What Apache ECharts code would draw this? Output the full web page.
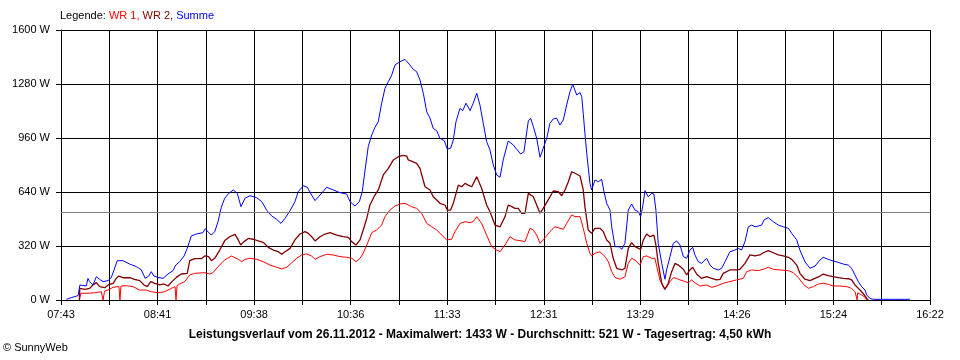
<!DOCTYPE html>
<html><head><meta charset="utf-8">
<style>html,body{margin:0;padding:0;background:#fff}#c{width:960px;height:360px}</style>
<script src="https://cdn.jsdelivr.net/npm/echarts/dist/echarts.min.js"></script>
</head><body><div id="c"></div>
<script>
// x values: minutes after 07:43 ; y values: W
const tickLabels = ['07:43','08:41','09:38','10:36','11:33','12:31','13:29','14:26','15:24','16:22'];
const spanMinutes = 519; // 07:43 -> 16:22
const average = 521;
const legendText = ['Legende: ', 'WR 1, ', 'WR 2, ', 'Summe'];
const footerText = 'Leistungsverlauf vom 26.11.2012 - Maximalwert: 1433 W - Durchschnitt: 521 W - Tagesertrag: 4,50 kWh';
const creditText = '\u00A9 SunnyWeb';

const summe = [[3.2,4],[6.2,14],[10.2,26],[10.9,26],[11.3,89],[15.1,83],[16.1,128],[17.1,109],[19.1,89],[21.1,138],[23.1,122],[25.1,109],[28.1,115],[30.0,132],[31.7,178],[33.6,233],[37.0,233],[41.0,213],[45.0,198],[48.0,178],[50.3,128],[52.4,142],[53.9,168],[55.5,142],[57.9,134],[60.9,128],[63.9,154],[66.9,174],[68.5,207],[70.9,227],[73.5,261],[75.4,306],[77.8,379],[80.8,391],[84.8,399],[86.2,423],[88.2,399],[89.8,385],[91.8,405],[93.8,464],[95.7,549],[97.8,603],[100.2,632],[102.9,652],[105.3,632],[107.5,553],[109.9,603],[112.9,618],[116.9,606],[119.9,583],[122.8,533],[125.8,498],[128.8,478],[131.4,454],[133.8,484],[136.8,529],[139.7,583],[141.7,642],[144.7,677],[147.1,668],[149.7,622],[151.7,589],[154.7,622],[158.7,668],[162.6,652],[166.6,636],[170.6,628],[172.6,583],[175.6,557],[178.2,583],[179.9,642],[181.6,770],[183.5,909],[185.6,978],[187.5,1023],[189.5,1057],[191.5,1166],[193.5,1255],[195.5,1294],[197.5,1333],[199.5,1393],[202.5,1412],[205.4,1426],[206.5,1433],[208.4,1393],[210.4,1367],[212.4,1353],[214.4,1304],[216.4,1225],[218.4,1116],[220.4,1077],[222.3,1017],[224.4,1003],[226.3,958],[228.9,944],[230.7,895],[232.7,899],[234.3,948],[235.9,1057],[238.3,1136],[239.9,1122],[241.9,1166],[244.3,1122],[246.2,1166],[248.3,1225],[250.2,1156],[252.2,1047],[254.2,938],[256.2,889],[258.2,800],[260.2,741],[262.2,727],[264.1,830],[267.1,942],[270.1,919],[272.2,893],[274.5,865],[276.5,879],[279.1,1061],[280.5,1077],[282.1,1027],[284.1,958],[286.1,846],[288.0,899],[290.1,958],[292.0,1047],[294.0,1073],[296.0,1077],[298.0,1037],[300.0,1067],[302.0,1156],[304.0,1235],[305.6,1278],[308.0,1215],[310.0,1229],[311.0,1205],[311.9,1106],[312.9,988],[314.0,869],[315.9,692],[316.9,652],[318.9,711],[320.9,701],[322.9,715],[324.3,642],[325.9,573],[327.9,533],[328.9,434],[330.9,316],[333.4,316],[334.9,300],[336.8,336],[338.8,533],[340.8,569],[342.8,533],[344.8,523],[346.2,494],[347.4,553],[348.8,648],[350.7,612],[352.8,632],[354.1,628],[355.3,533],[356.7,336],[358.8,217],[360.7,123],[361.7,178],[363.7,257],[365.7,336],[367.7,350],[369.7,326],[371.7,257],[373.7,247],[375.6,296],[377.3,312],[378.6,267],[380.6,227],[382.6,217],[385.6,247],[387.6,207],[389.6,188],[392.5,178],[394.6,188],[396.6,227],[399.5,286],[402.5,296],[404.5,306],[406.5,296],[408.5,346],[410.5,434],[412.5,444],[414.5,434],[416.4,438],[418.5,444],[419.8,474],[422.4,488],[425.4,464],[428.4,444],[431.4,434],[434.4,425],[436.4,395],[439.4,356],[441.3,296],[444.3,227],[447.3,188],[450.3,201],[453.3,237],[455.2,253],[458.2,241],[461.2,231],[464.2,223],[467.2,213],[470.2,207],[472.2,188],[474.2,148],[476.2,109],[478.2,79],[480.2,59],[481.2,30],[483.1,10],[485.1,4],[497.1,4],[507.0,4]];

const wr2 = [[11.0,0],[11.2,69],[14.2,63],[17.1,69],[19.1,89],[21.1,103],[23.1,79],[26.1,73],[28.1,89],[31.1,99],[33.0,128],[34.5,142],[37.0,132],[41.0,132],[44.0,122],[47.0,115],[49.6,89],[51.5,79],[53.6,109],[56.0,99],[58.9,89],[61.5,95],[63.9,83],[66.3,109],[68.9,134],[71.8,154],[75.4,158],[76.9,233],[79.8,245],[83.8,245],[85.8,261],[88.2,257],[89.8,233],[91.8,247],[94.8,296],[97.8,352],[100.8,375],[103.9,389],[105.9,356],[107.3,326],[109.3,346],[111.9,365],[114.8,360],[117.8,350],[120.8,342],[123.8,312],[126.8,296],[129.8,286],[131.8,271],[133.8,286],[136.8,306],[139.7,356],[142.7,391],[145.7,405],[147.7,395],[149.7,375],[151.7,350],[154.7,375],[157.7,391],[160.7,399],[164.7,385],[168.6,375],[171.6,371],[173.6,346],[176.2,326],[178.6,356],[180.5,415],[182.6,484],[184.5,563],[187.5,622],[189.5,652],[192.5,741],[195.5,780],[198.5,830],[201.4,849],[204.4,857],[206.5,853],[207.4,830],[210.4,818],[212.4,810],[214.4,780],[217.4,671],[220.4,652],[222.3,612],[224.4,593],[226.3,573],[229.3,563],[230.7,533],[232.7,533],[234.3,573],[237.3,681],[239.3,671],[241.3,691],[243.2,681],[245.3,671],[248.3,731],[251.2,662],[254.2,563],[256.2,523],[259.2,444],[262.2,434],[265.2,494],[267.1,563],[269.2,553],[271.1,543],[273.1,543],[275.1,514],[277.1,514],[279.1,632],[280.1,642],[282.1,612],[284.1,563],[286.1,514],[288.0,543],[291.0,593],[294.0,646],[297.0,642],[299.0,618],[301.0,652],[303.0,701],[305.0,760],[307.0,751],[310.0,735],[311.0,731],[311.9,652],[312.9,553],[314.9,415],[316.9,395],[318.9,425],[321.9,425],[323.9,405],[325.9,356],[327.9,336],[329.8,247],[331.9,188],[334.9,178],[336.8,188],[338.8,306],[340.8,340],[342.8,316],[346.2,300],[347.8,356],[349.8,391],[351.8,375],[354.1,385],[355.3,326],[356.7,217],[358.8,99],[360.7,63],[362.7,99],[364.7,168],[366.7,217],[368.7,207],[371.7,182],[373.7,148],[375.6,178],[377.3,194],[379.6,154],[382.6,128],[385.6,138],[388.6,128],[391.6,119],[393.6,122],[395.5,158],[399.5,178],[403.5,178],[405.5,182],[408.5,217],[411.5,267],[414.5,261],[417.4,267],[419.4,280],[422.4,292],[425.4,280],[428.4,267],[431.4,261],[434.4,253],[436.4,241],[439.4,207],[441.3,158],[444.3,123],[447.3,115],[450.3,128],[453.3,142],[455.2,154],[458.2,144],[461.2,138],[464.2,132],[467.2,128],[470.2,126],[472.2,119],[474.2,89],[476.2,69],[478.2,49],[480.2,24],[481.2,10],[482.1,0]];

const wr1 = [[11.0,0],[11.8,40],[16.1,40],[20.1,43],[24.1,49],[25.1,0],[26.0,52],[28.1,59],[31.1,75],[34.6,80],[35.2,0],[35.8,83],[39.0,85],[43.0,79],[47.0,59],[50.9,59],[53.9,49],[57.9,43],[61.9,49],[65.9,69],[68.1,79],[68.7,0],[69.3,85],[70.9,95],[73.9,109],[76.9,148],[79.8,158],[85.8,162],[88.8,154],[90.8,162],[93.8,198],[97.8,237],[101.7,261],[105.9,241],[107.9,227],[109.9,241],[112.9,247],[116.9,241],[120.8,227],[124.8,207],[128.8,194],[131.8,184],[134.8,194],[137.8,221],[140.8,247],[143.7,267],[146.7,273],[149.7,261],[151.7,241],[154.7,257],[158.7,271],[162.6,267],[166.6,257],[170.6,253],[173.6,247],[176.2,227],[178.6,247],[180.5,277],[182.6,326],[185.6,399],[188.5,415],[191.5,444],[193.5,494],[196.5,533],[199.5,557],[202.5,569],[205.4,573],[209.4,553],[212.4,543],[215.4,514],[218.4,454],[221.4,434],[224.4,415],[227.4,385],[230.3,356],[233.3,360],[235.3,405],[238.3,454],[241.3,464],[244.3,458],[246.2,464],[248.3,494],[251.2,454],[254.2,385],[257.2,316],[260.2,296],[262.2,286],[265.2,326],[268.1,375],[271.1,356],[274.1,352],[277.1,346],[280.1,425],[282.1,415],[284.1,385],[286.1,336],[288.0,356],[292.0,405],[295.0,434],[298.0,425],[300.0,419],[302.0,454],[305.0,504],[307.0,494],[310.0,494],[311.9,425],[314.0,336],[315.9,277],[316.9,261],[318.9,277],[321.9,286],[324.9,257],[326.9,227],[328.9,168],[330.9,134],[333.8,123],[336.8,138],[338.8,217],[340.8,247],[342.8,237],[345.8,207],[347.8,257],[349.8,261],[352.8,247],[354.7,247],[355.8,198],[357.7,119],[360.1,69],[361.7,75],[363.7,109],[365.7,132],[367.7,128],[369.7,119],[372.7,109],[374.6,102],[376.7,119],[378.6,102],[381.6,83],[385.6,89],[388.6,75],[391.6,83],[395.5,99],[399.5,109],[403.5,119],[407.5,128],[409.5,168],[412.5,178],[416.4,174],[419.4,182],[422.4,194],[425.4,182],[429.4,178],[434.4,174],[437.3,162],[440.3,134],[443.3,95],[446.3,69],[449.3,79],[452.3,95],[455.2,99],[458.2,93],[461.2,83],[465.2,83],[469.2,79],[472.2,69],[474.2,49],[475.2,45],[475.5,0],[475.8,42],[476.2,40],[478.2,30],[480.2,16],[481.2,0]];

const FONT = '"Liberation Sans", Arial, sans-serif';
const step = spanMinutes / 18;
const chart = echarts.init(document.getElementById('c'), null, {renderer: 'canvas'});
const option = {
  animation: false,
  backgroundColor: '#ffffff',
  textStyle: {fontFamily: FONT},
  title: [
    {
      text: '{k|' + legendText[0] + '}{a|' + legendText[1] + '}{b|' + legendText[2] + '}{c|' + legendText[3] + '}',
      left: 60, top: 10, padding: 0,
      textStyle: {
        fontSize: 11, fontWeight: 'normal',
        rich: {
          k: {color: '#000000', fontSize: 11, fontFamily: FONT},
          a: {color: '#ff0000', fontSize: 11, fontFamily: FONT},
          b: {color: '#800000', fontSize: 11, fontFamily: FONT},
          c: {color: '#0000ff', fontSize: 11, fontFamily: FONT}
        }
      }
    },
    {
      text: footerText, left: 'center', top: 329, padding: 0,
      textStyle: {fontSize: 12, fontWeight: 'bold', color: '#000000', fontFamily: FONT}
    },
    {
      text: creditText, left: 3, top: 342, padding: 0,
      textStyle: {fontSize: 11, fontWeight: 'normal', color: '#000000', fontFamily: FONT}
    }
  ],
  grid: {left: 61, right: 30, top: 30, bottom: 60, containLabel: false, outerBoundsMode: 'none'},
  xAxis: {
    type: 'value', min: 0, max: spanMinutes, interval: step,
    axisLine: {show: true, lineStyle: {color: '#000000', width: 1}},
    axisTick: {show: true, length: 5, lineStyle: {color: '#000000', width: 1}},
    splitLine: {show: true, lineStyle: {color: '#000000', width: 1}},
    axisLabel: {
      color: '#000000', fontSize: 11, margin: 9, fontFamily: FONT,
      showMinLabel: true, showMaxLabel: true, hideOverlap: false,
      formatter: function (v) {
        const k = Math.round(v / step);
        return k % 2 === 0 ? tickLabels[k / 2] : '';
      }
    }
  },
  yAxis: {
    type: 'value', min: 0, max: 1600, interval: 320,
    axisLine: {show: true, lineStyle: {color: '#000000', width: 1}},
    axisTick: {show: true, length: 5, lineStyle: {color: '#000000', width: 1}},
    splitLine: {show: true, lineStyle: {color: '#000000', width: 1}},
    axisLabel: {
      color: '#000000', fontSize: 11, margin: 11, fontFamily: FONT,
      formatter: function (v) { return String(v) + ' W'; }
    }
  },
  series: [
    {
      name: 'WR 1', type: 'line', data: wr1, showSymbol: false, symbol: 'none',
      lineStyle: {color: '#ff0000', width: 1}, itemStyle: {color: '#ff0000'},
      markLine: {
        silent: true, symbol: 'none', label: {show: false},
        lineStyle: {color: '#808080', width: 1, type: 'solid'},
        data: [{yAxis: average}]
      }
    },
    {
      name: 'WR 2', type: 'line', data: wr2, showSymbol: false, symbol: 'none',
      lineStyle: {color: '#800000', width: 1.3}, itemStyle: {color: '#800000'}
    },
    {
      name: 'Summe', type: 'line', data: summe, showSymbol: false, symbol: 'none',
      lineStyle: {color: '#0000ff', width: 1}, itemStyle: {color: '#0000ff'}
    }
  ]
};
chart.setOption(option);
</script>
</body></html>
